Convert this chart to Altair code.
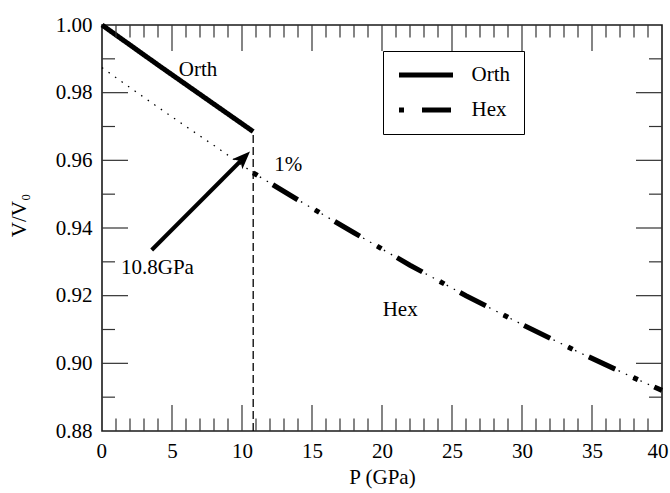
import altair as alt
import pandas as pd

# ---------------- data ----------------
P_ORTH = [0, 2, 4, 6, 8, 10.8]
V_ORTH = [1.0, 0.9941, 0.9882, 0.9824, 0.9766, 0.9685]

P_HEX = [0, 2, 4, 6, 8, 10.8, 14, 18, 22, 26, 30, 34, 38, 40]
V_HEX = [0.9874, 0.9815, 0.9757, 0.9700, 0.9644, 0.9563, 0.9483, 0.9386,
         0.9290, 0.9200, 0.9115, 0.9034, 0.8957, 0.8920]

P_TRANSITION = 10.8
SERIES = ["Orth", "Hex"]

X_TICKS = [0, 5, 10, 15, 20, 25, 30, 35, 40]
Y_TICKS = [0.88, 0.90, 0.92, 0.94, 0.96, 0.98, 1.00]
X_MINOR = [i for i in range(1, 40) if i % 5 != 0]
X_MAJOR = [5, 10, 15, 20, 25, 30, 35]
Y_MINOR = [0.89, 0.91, 0.93, 0.95, 0.97, 0.99]
Y_MAJOR = [0.90, 0.92, 0.94, 0.96, 0.98]

ARROW_P = [3.55, 9.9]
ARROW_V = [0.9335, 0.9598]
ARROW_TIP_P = [10.57]
ARROW_TIP_V = [0.9626]

LABELS = ["Orth", "1%", "10.8GPa", "Hex"]
LABEL_P = [6.86, 13.3, 3.96, 21.3]
LABEL_V = [0.9868, 0.9587, 0.9283, 0.9157]

# ---------------- layout ----------------
W, H = 560, 406
FONT = "Liberation Serif"
FS = 21
TICK_COLOR = "#333333"

xscale = alt.Scale(domain=[0, 40], nice=False, zero=False)
yscale = alt.Scale(domain=[0.88, 1.0], nice=False, zero=False)

xaxis = alt.Axis(values=X_TICKS, format="d", title="P (GPa)", ticks=False, tickSize=0,
                 domain=False, grid=False, labelFlush=True, labelFlushOffset=6,
                 labelFont=FONT, labelFontSize=FS, labelColor="black", labelPadding=9,
                 titleFont=FONT, titleFontSize=FS, titleFontWeight="normal",
                 titleColor="black", titleY=46, titleBaseline="middle")
yaxis = alt.Axis(values=Y_TICKS, format=".2f", title="V/V₀", ticks=False, tickSize=0,
                 domain=False, grid=False, labelFlush=False, labelFont=FONT,
                 labelFontSize=FS, labelColor="black", labelPadding=10,
                 titleFont=FONT, titleFontSize=FS, titleFontWeight="normal",
                 titleColor="black", titleAngle=270, titleX=-77, titleY=190,
                 titleAlign="center", titleBaseline="alphabetic")


def X(field):
    return alt.X(field, type="quantitative", scale=xscale, axis=xaxis)


def Y(field):
    return alt.Y(field, type="quantitative", scale=yscale, axis=yaxis)


# ---------------- tables ----------------
orth_df = pd.DataFrame({"P": P_ORTH, "V": V_ORTH, "series": "Orth"})
hex_df = pd.DataFrame({"P": P_HEX, "V": V_HEX, "series": "Hex"})
hex_thick = hex_df[hex_df["P"] >= P_TRANSITION]
thick_df = pd.concat([orth_df, hex_thick], ignore_index=True)

trans_df = pd.DataFrame({"P": [P_TRANSITION], "V": [0.88], "V2": [V_ORTH[-1]]})
arrow_df = pd.DataFrame({"P": ARROW_P, "V": ARROW_V})
tip_df = pd.DataFrame({"P": ARROW_TIP_P, "V": ARROW_TIP_V})
label_df = pd.DataFrame({"P": LABEL_P, "V": LABEL_V, "text": LABELS})

# ---------------- layers ----------------
thin_hex = alt.Chart(hex_df).mark_line(
    color="black", strokeWidth=1.3, strokeDash=[1.5, 6.5]
).encode(x=X("P"), y=Y("V"))

thick = alt.Chart(thick_df).mark_line(color="black", strokeWidth=5, strokeCap="butt").encode(
    x=X("P"),
    y=Y("V"),
    strokeDash=alt.StrokeDash(
        "series:N",
        sort=SERIES,
        scale=alt.Scale(domain=SERIES, range=[[1, 0], [5, 18, 29, 20]]),
        legend=alt.Legend(
            title=None, orient="none", legendX=281, legendY=26,
            symbolType="stroke", symbolSize=2916, symbolStrokeWidth=5,
            symbolStrokeColor="black", clipHeight=21,
            labelFont=FONT, labelFontSize=FS, labelColor="black",
            labelOffset=16, padding=13.5, rowPadding=13,
            strokeColor="black", fillColor="white",
            labelExpr="datum.label + '\u00a0\u00a0\u00a0\u00a0'",
        ),
    ),
)

trans = alt.Chart(trans_df).mark_rule(
    color="black", strokeWidth=1.3, strokeDash=[8, 4]
).encode(x=X("P"), y=Y("V"), y2="V2")

arrow = alt.Chart(arrow_df).mark_line(color="black", strokeWidth=4).encode(
    x=X("P"), y=Y("V"))
tip = alt.Chart(tip_df).mark_point(
    shape="M0,0L-0.8,2L0,1.5L0.8,2Z", filled=True, color="black", opacity=1,
    size=324, angle=45, strokeWidth=0
).encode(x=X("P"), y=Y("V"))

texts = alt.Chart(label_df).mark_text(
    font=FONT, fontSize=FS, color="black"
).encode(x=X("P"), y=Y("V"), text="text:N")


def xticks(values, length, top):
    df = pd.DataFrame({"P": values})
    if top:
        enc = dict(y=alt.value(0), y2=alt.value(length))
    else:
        enc = dict(y=alt.value(H), y2=alt.value(H - length))
    return alt.Chart(df).mark_rule(color=TICK_COLOR, strokeWidth=1.2).encode(x=X("P"), **enc)


def yticks(values, length, right):
    df = pd.DataFrame({"V": values})
    if right:
        enc = dict(x=alt.value(W), x2=alt.value(W - length))
    else:
        enc = dict(x=alt.value(0), x2=alt.value(length))
    return alt.Chart(df).mark_rule(color=TICK_COLOR, strokeWidth=1.2).encode(y=Y("V"), **enc)


tick_layers = [
    xticks(X_MAJOR, 26, False), xticks(X_MINOR, 12.5, False),
    xticks(X_MAJOR, 26, True), xticks(X_MINOR, 12.5, True),
    yticks(Y_MAJOR, 26, False), yticks(Y_MINOR, 13, False),
    yticks(Y_MAJOR, 26, True), yticks(Y_MINOR, 13, True),
]

chart = alt.layer(
    thin_hex, thick, trans, arrow, tip, texts, *tick_layers
).properties(
    width=W, height=H,
    autosize=alt.AutoSizeParams(type="none"),
    padding={"left": 102, "top": 25, "right": 8, "bottom": 62},
    background="white",
).configure_view(
    stroke="#1a1a1a", strokeWidth=1.6
).configure_axis(
    labelFont=FONT, titleFont=FONT, labelFontSize=FS, titleFontSize=FS,
    labelColor="black", titleColor="black", titleFontWeight="normal"
).configure_legend(
    labelFont=FONT
).configure_text(
    font=FONT
)

chart.save("out.html", embed_options={"renderer": "svg", "actions": False})
